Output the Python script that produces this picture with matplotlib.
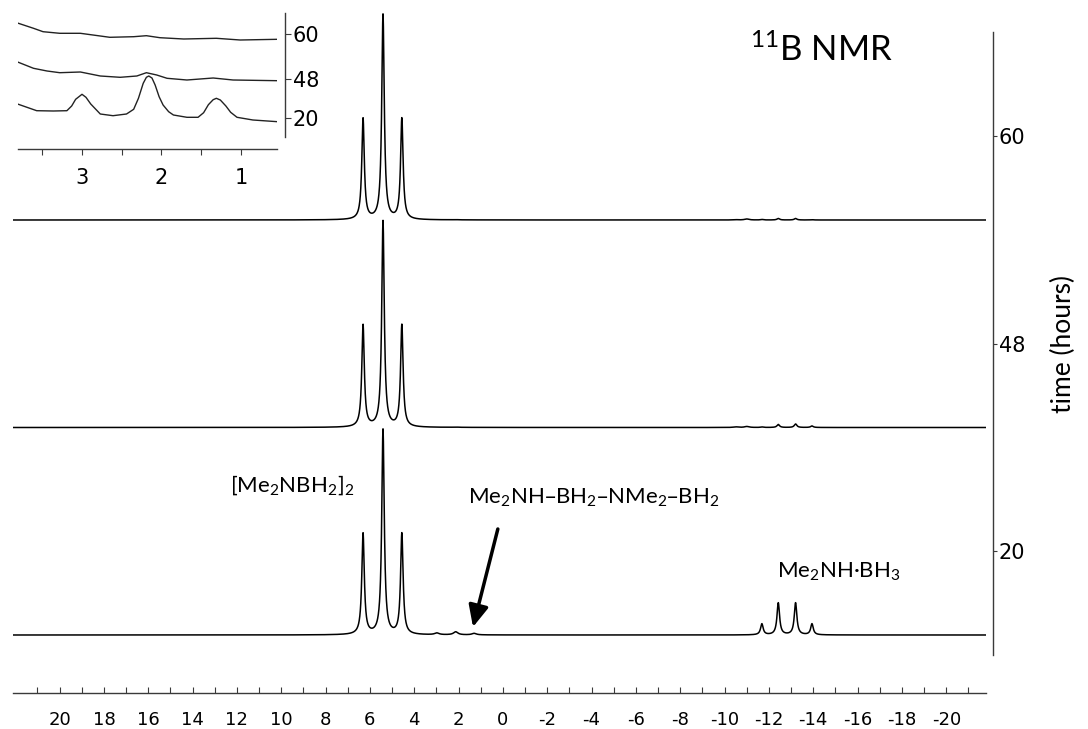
import numpy as np
import matplotlib.pyplot as plt
from matplotlib.ticker import FixedLocator, FixedFormatter

plt.rcParams['axes.unicode_minus'] = False

W, H = 1088, 729

# ---- main spectra: peak tables (ppm, height) ----
times = ['20', '48', '60']
offsets = [58, 265.5, 473]          # baseline of each trace

triplet_ppm = [6.31, 5.41, 4.56]
triplet_h = {'20': [101, 205, 101], '48': [102, 206, 102], '60': [101, 205, 101]}

quartet_ppm = [-11.68, -12.42, -13.20, -13.94]
quartet_h = {'20': [11, 32, 32, 11], '48': [0.5, 3.0, 3.5, 1.5], '60': [0.5, 1.5, 1.5, 0.3]}

minor_ppm = [2.98, 2.13, 1.30, -11.0, -10.5]
minor_h = {'20': [1.7, 3.0, 1.5, 0.0, 0.0], '48': [0.0, 0.3, 0.0, 1.0, 0.6], '60': [0.0, 0.2, 0.0, 1.0, 0.3]}

# ---- inset traces (ppm, intensity) ----
ins60_ppm = [3.80, 3.61, 3.49, 3.28, 3.02, 2.77, 2.65, 2.35, 2.19, 2.02, 1.72, 1.31, 1.01, 0.54]
ins60_y = [125.7, 120.7, 117.3, 115.7, 115.7, 113.0, 111.7, 112.3, 113.3, 111.3, 110.0, 110.7, 109.0, 109.7]

ins48_ppm = [3.80, 3.61, 3.44, 3.28, 3.02, 2.77, 2.52, 2.31, 2.19, 2.06, 1.93, 1.68, 1.35, 1.10, 0.54]
ins48_y = [86.7, 80.7, 78.0, 76.3, 77.0, 73.0, 71.7, 73.0, 76.3, 74.0, 70.7, 69.0, 71.0, 69.0, 68.3]

ins20_ppm = [3.80, 3.57, 3.36, 3.19, 3.13, 3.08, 3.00, 2.95, 2.89, 2.77, 2.61, 2.44, 2.35, 2.29,
             2.23, 2.19, 2.16, 2.12, 2.08, 2.03, 1.98, 1.91, 1.85, 1.68, 1.54, 1.47, 1.41, 1.35,
             1.31, 1.26, 1.19, 1.13, 1.05, 0.85, 0.54]
ins20_y = [44.7, 38.3, 38.0, 38.3, 43.0, 49.7, 54.7, 51.7, 45.0, 35.0, 33.3, 35.0, 39.7, 50.7,
           65.7, 71.7, 73.0, 71.0, 64.0, 52.3, 44.0, 37.3, 34.0, 31.7, 31.7, 36.3, 44.3, 49.3,
           50.7, 49.0, 43.0, 36.7, 31.7, 29.0, 27.3]

xtick_vals = list(range(20, -21, -2))
xtick_labels = [str(v) for v in xtick_vals]


def lorentz(x, centers, heights, hw):
    out = np.zeros_like(x)
    for c, h in zip(centers, heights):
        out += h * hw ** 2 / ((x - c) ** 2 + hw ** 2)
    return out


fig = plt.figure(figsize=(W / 100, H / 100), dpi=100)

def fx(px):
    return px / W

def fy(py):
    return 1 - py / H

# ---- main axes ----
ax = fig.add_axes([fx(13), 36 / H, (986 - 13) / W, 693 / H])
ax.patch.set_alpha(0)
x = np.linspace(22.1, -21.79, 8000)
for t, off in zip(times, offsets):
    spec = lorentz(x, triplet_ppm, triplet_h[t], 0.068)
    spec += lorentz(x, quartet_ppm, quartet_h[t], 0.07)
    spec += lorentz(x, minor_ppm, minor_h[t], 0.12)
    ax.plot(x, off + spec, color='k', lw=1.1)

ax.set_xlim(22.1, -21.79)
ax.set_ylim(0, 693)
for s in ['left', 'top']:
    ax.spines[s].set_visible(False)
for s in ['bottom', 'right']:
    ax.spines[s].set_color('#3a3a3a')
    ax.spines[s].set_linewidth(1.0)
ax.spines['right'].set_position(('outward', 5))
ax.spines['right'].set_bounds(38, 661)

ax.xaxis.set_major_locator(FixedLocator(xtick_vals))
ax.xaxis.set_major_formatter(FixedFormatter(xtick_labels))
ax.xaxis.set_minor_locator(FixedLocator(list(range(-21, 22, 2))))
ax.tick_params(axis='x', which='both', direction='in', length=4, width=0.8,
               color='#3a3a3a', labelsize=13, pad=13)

ax.yaxis.tick_right()
ax.set_yticks([o + 84 for o in offsets])
ax.set_yticklabels(times)
ax.tick_params(axis='y', direction='out', length=3, width=0.8, color='#3a3a3a',
               labelsize=15, pad=1)

# ---- annotations ----
fig.text(fx(893), fy(61), r'$\mathregular{^{11}}$B NMR', ha='right', va='baseline',
         fontsize=25, family='Lato')
fig.text(fx(1063), fy(344), 'time (hours)', rotation=90, ha='center', va='center',
         fontsize=19, family='Lato')
fig.text(fx(230), fy(485), r'[Me$\mathregular{_2}$NBH$\mathregular{_2}$]$\mathregular{_2}$',
         ha='left', va='center', fontsize=16, family='Lato')
fig.text(fx(468), fy(498),
         r'Me$\mathregular{_2}$NH–BH$\mathregular{_2}$–NMe$\mathregular{_2}$–BH$\mathregular{_2}$',
         ha='left', va='center', fontsize=16, family='Lato')
fig.text(fx(777), fy(572), r'Me$\mathregular{_2}$NH·BH$\mathregular{_3}$',
         ha='left', va='center', fontsize=16, family='Lato')

ax.annotate('', xy=(1.35, 66), xytext=(0.23, 164),
            arrowprops=dict(arrowstyle='-|>,head_length=0.65,head_width=0.3', lw=2.5,
                            color='k', mutation_scale=20, shrinkA=0, shrinkB=0))

# ---- inset ----
axin = fig.add_axes([fx(18), fy(149), (277 - 18) / W, 136 / H])
axin.patch.set_alpha(0)
axin.plot(ins60_ppm, ins60_y, color='#222222', lw=1.0)
axin.plot(ins48_ppm, ins48_y, color='#222222', lw=1.0)
axin.plot(ins20_ppm, ins20_y, color='#222222', lw=1.0)
axin.set_xlim(3.805, 0.547)
axin.set_ylim(0, 136)
for s in ['left', 'top']:
    axin.spines[s].set_visible(False)
for s in ['bottom', 'right']:
    axin.spines[s].set_color('#3a3a3a')
    axin.spines[s].set_linewidth(1.0)
axin.spines['right'].set_position(('outward', 6))
axin.spines['right'].set_bounds(12, 136)
axin.xaxis.set_major_locator(FixedLocator([3, 2, 1]))
axin.xaxis.set_major_formatter(FixedFormatter(['3', '2', '1']))
axin.xaxis.set_minor_locator(FixedLocator([3.5, 2.5, 1.5]))
axin.tick_params(axis='x', which='both', direction='out', length=4, width=0.8,
                 color='#3a3a3a', labelsize=15, pad=9.5)
axin.yaxis.tick_right()
axin.set_yticks([31, 70, 115])
axin.set_yticklabels(['20', '48', '60'])
axin.tick_params(axis='y', direction='out', length=4, width=0.8, color='#3a3a3a',
                 labelsize=15, pad=1.5)

fig.savefig('out.png', dpi=100)
